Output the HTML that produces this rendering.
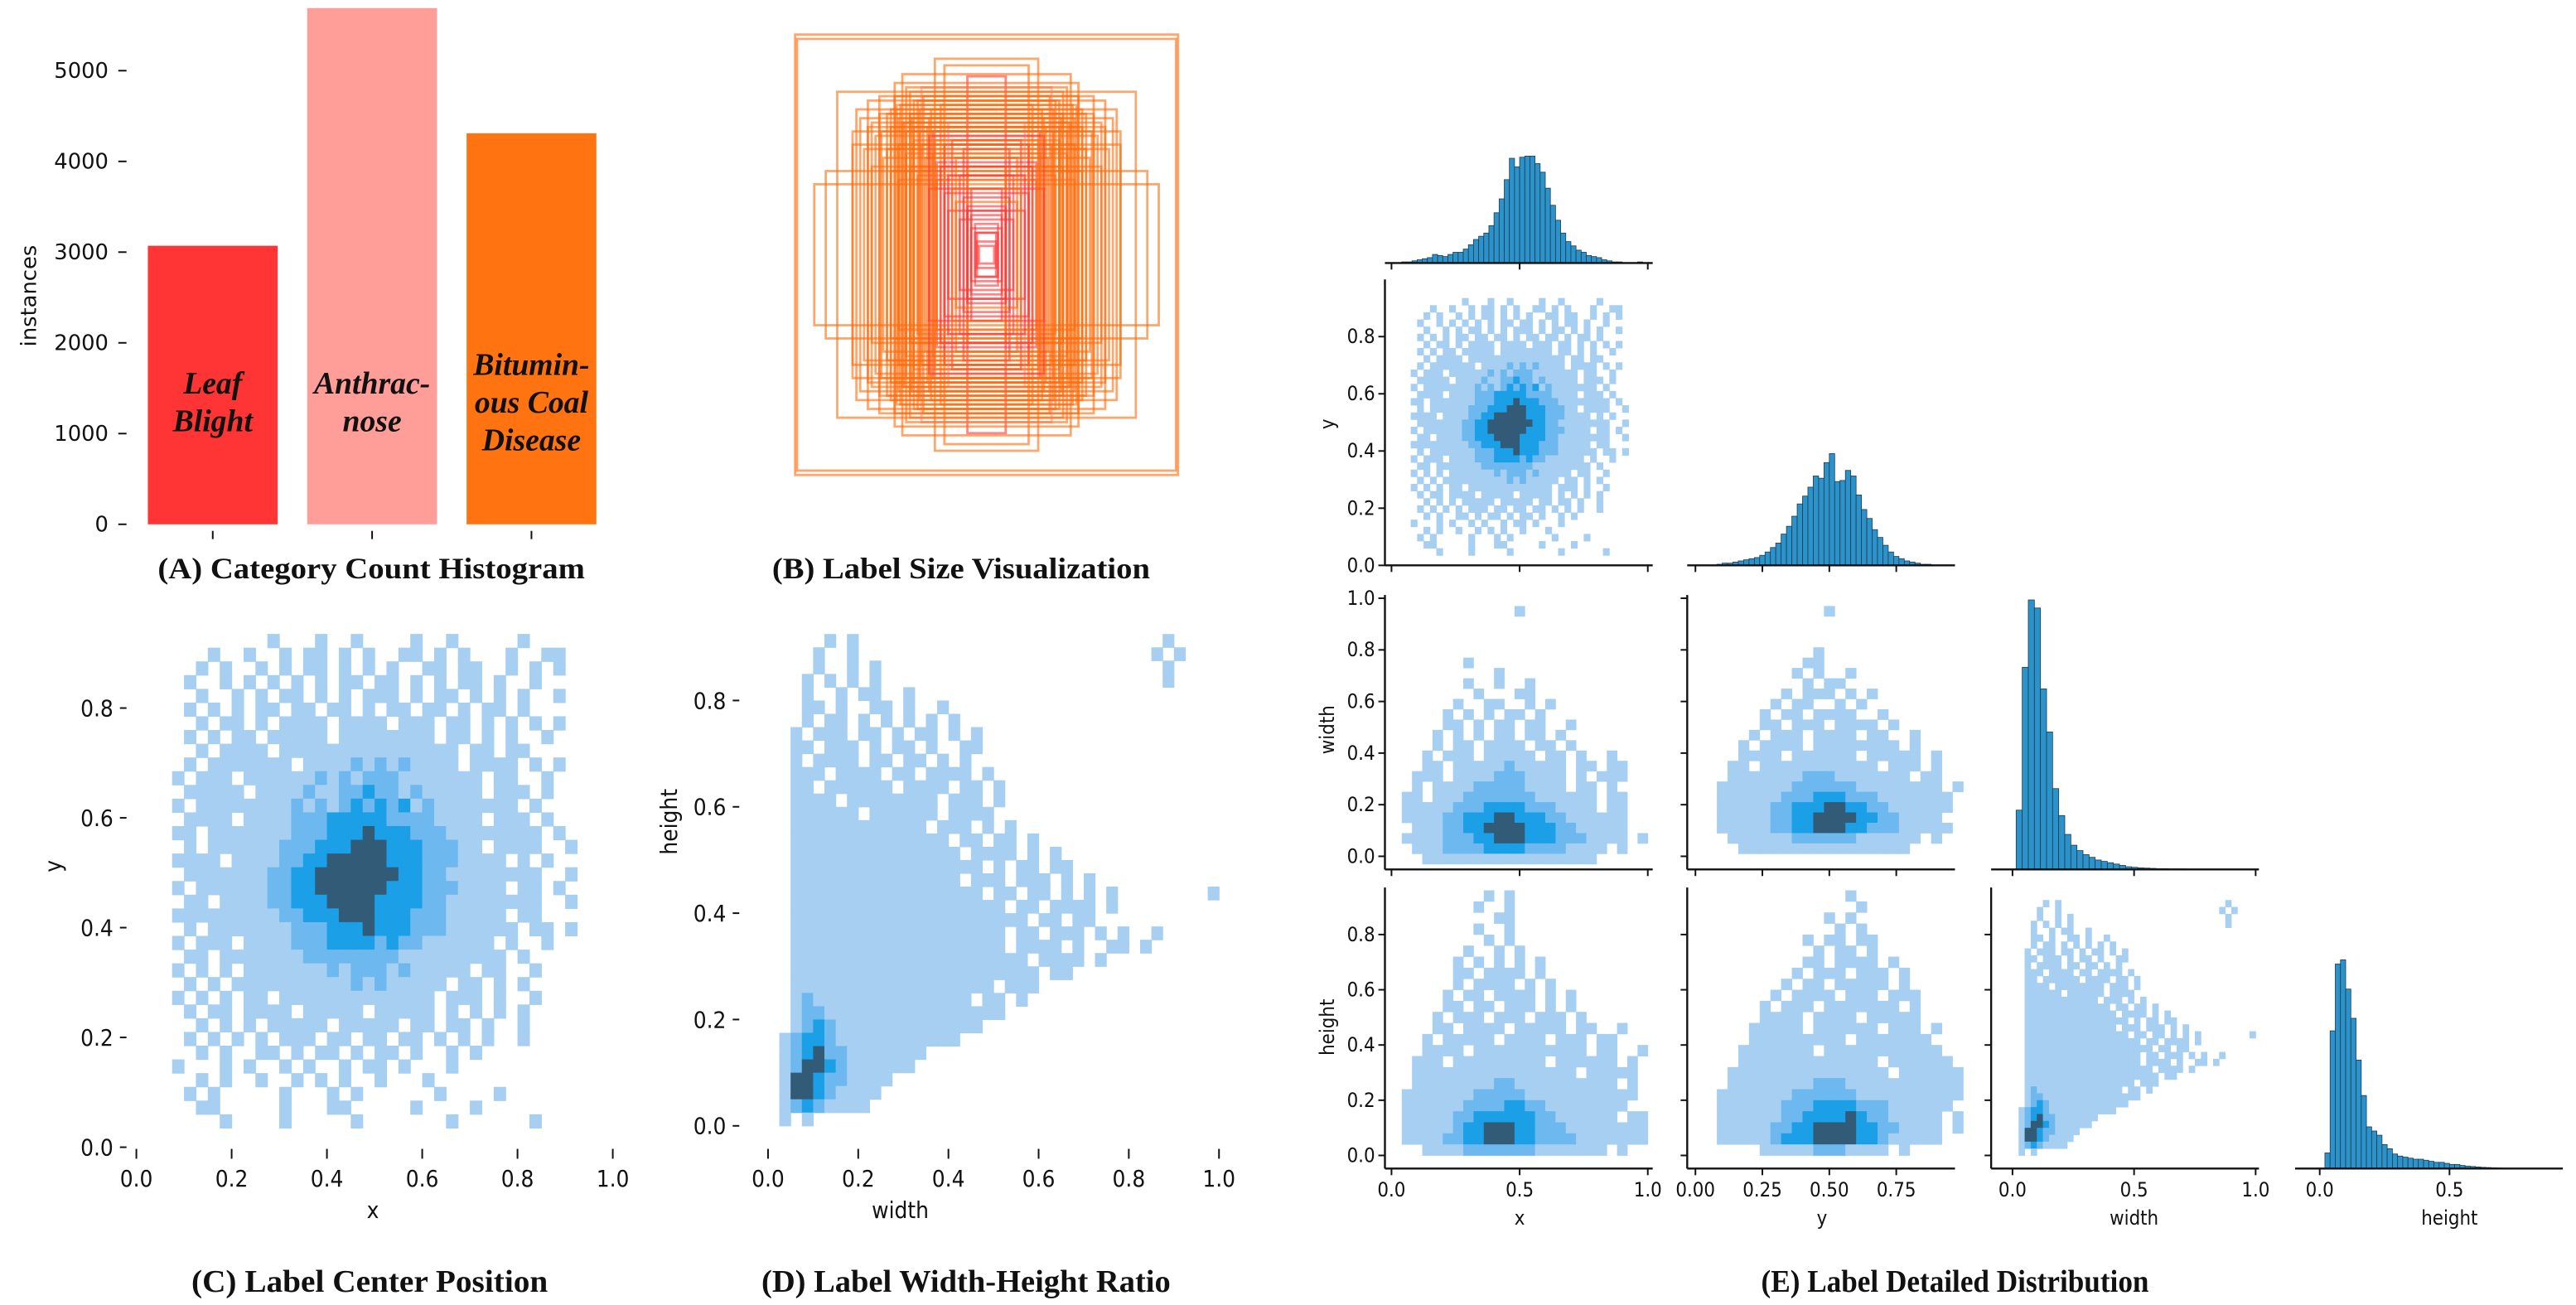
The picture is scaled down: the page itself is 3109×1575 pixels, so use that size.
<!DOCTYPE html>
<html><head><meta charset="utf-8"><title>Label statistics figure</title>
<style>
html,body{margin:0;padding:0;background:#fff;}
svg{display:block;}
.tk{font-family:"DejaVu Sans",sans-serif;fill:#111;}
.tc{font-family:"DejaVu Sans Condensed","DejaVu Sans",sans-serif;font-stretch:condensed;fill:#111;}
.ttl{font-family:"Liberation Serif",serif;font-weight:bold;fill:#111;}
</style></head>
<body>
<svg id="fig" xmlns="http://www.w3.org/2000/svg" width="3109" height="1575" viewBox="0 0 1568 794" preserveAspectRatio="none"></svg>
<script>
// ---------- Panel A data ----------
const catNames = ['Leaf Blight','Anthracnose','Bituminous Coal Disease'];
const catCounts = [3070, 5690, 4310];
const catColors = ['#ff3434','#ff9e98','#ff7411'];
const catLabelLines = [['Leaf','Blight'],['Anthrac-','nose'],['Bitumin-','ous Coal','Disease']];
const aTicks = [0,1000,2000,3000,4000,5000];

// ---------- Panel B data (normalized box width/height, class index) ----------
const boxW = [1,0.99,0.27,0.22,0.1,0.78,0.9,0.84,0.7,0.62,0.56,0.48,0.44,0.34,0.6,0.55,0.66,0.5,0.44,0.4,0.36,0.3,0.28,0.24,0.58,0.52,0.46,0.42,0.38,0.32,0.26,0.22,0.2,0.18,0.16,0.14,0.12,0.1,0.08,0.64,0.6,0.54,0.5,0.46,0.4,0.36,0.3,0.26,0.22,0.2,0.16,0.14,0.1,0.08,0.06,0.05,0.04,0.7,0.68,0.62,0.56,0.5,0.46,0.42,0.38,0.34,0.3,0.28,0.24,0.2,0.18,0.12,0.1,0.08,0.06,0.05,0.45,0.4,0.35,0.48,0.42,0.38,0.33,0.29,0.52,0.47,0.43,0.39,0.35,0.31,0.27];
const boxH = [1,0.98,0.89,0.86,0.81,0.74,0.32,0.38,0.5,0.7,0.72,0.78,0.82,0.76,0.6,0.56,0.62,0.66,0.6,0.64,0.7,0.62,0.56,0.68,0.54,0.48,0.5,0.46,0.52,0.44,0.42,0.5,0.6,0.52,0.44,0.36,0.48,0.4,0.3,0.48,0.4,0.44,0.38,0.34,0.4,0.36,0.3,0.34,0.28,0.2,0.24,0.16,0.2,0.12,0.1,0.06,0.04,0.56,0.66,0.58,0.64,0.58,0.62,0.56,0.58,0.5,0.54,0.46,0.4,0.36,0.3,0.26,0.22,0.18,0.14,0.1,0.68,0.74,0.66,0.72,0.76,0.7,0.72,0.66,0.64,0.68,0.6,0.62,0.56,0.58,0.52];
const boxCls = [2,2,2,2,0,2,2,2,2,2,2,2,2,1,2,2,2,2,2,2,2,2,0,2,2,2,2,2,2,2,0,0,1,0,2,0,0,2,0,2,2,2,2,2,2,2,0,2,0,0,2,0,0,0,0,0,0,2,2,2,2,2,2,2,2,2,0,2,0,0,2,0,0,0,0,0,2,2,2,2,2,2,2,2,2,2,2,2,2,2,2];

// ---------- Panel C data: x/y 2D histogram (rows top y=0.935 downward, step 0.025; cols from x=0.05) ----------
const xyGrid = [
".........1...1..1....1..1.....1.....",
"....1..1..1.11.1.1..11.1.1...1..11..",
"...1.1..1.1.11.1.1.1..11.11..1.1.1..",
"..1..1.1.1.1.1.11.11.1.1.11.1..1....",
"...1..1.1.11.1.1.111.1.11.1.1.1..1..",
"..1.1.1.11.11.11.1.11.11.1.11.1.....",
"...1.11.1.1111.1111.111.11.1.1.1.1..",
"..1.1.11.11111.11111111.11.1.1..1...",
"...1.1111.111111111111111.11.11.....",
"..1.1111111.1111212121111.1111.1.1..",
".1.111.11111121212221111111.11..1...",
"..11111.1111211223221211111.111.1...",
".1.111111112121232323121111111.1....",
"..1111.11112223333322221111.111.1...",
".11.1111111222333433322211111111.1..",
"..1.11111122233344433322211.1111..1.",
".1111.11112233444443332221111.1.1...",
"..111111122334444444332211111111..1.",
".1.11111122334444443332221111.11.1..",
"..11.111122333444433332211111111..1.",
".1111111112233344433322211111.11....",
"..1.11111112223334333222111111.11.1.",
".1.111.111122233332322111111.1..1...",
"..11.111111122222222111111111.1.....",
".1.1.1.1111111212221211111.11..1....",
"..1.1.111111111121211111.11.1.1.....",
".1.1.1.11.1111111111111.111.1..1....",
"..1.11.1111.11111.11111.1.1.1.1.....",
"...1.1.1.11111.11111.11.11.1..1.....",
"..1.1.1.1.111.11.11.11.1.1.1..1.....",
"...1.1..11.1.11.1.11.1..1.1.........",
".1...1.1..1.1..1.11.1...1...........",
"...1.1..1..1.1.1..1...1.............",
"..1.1.....1...1.1......1....1.......",
"...11.....1...11.....1....1.........",
".....1....1.....1.......1......1...."
];

// ---------- Panel D data: width/height 2D histogram (rows top h=0.925, step 0.025; cols from w=0) ----------
const whGrid = [
".....1.1...........................1....",
"....1..1..........................1.1...",
"....1..1.1.........................1....",
"...1.1.1.1.........................1....",
"...1..1.11..1...........................",
"...11.1..11.1..1........................",
"...1.11.1.1.1.1.1.......................",
"..1.111.11.1.11.1.1.....................",
"..11.111.1.11.1..11.....................",
"..1.1111.11.11.1.1......................",
"..111.1111.11.1111.1....................",
"..11.111111.1111.11.1...................",
"..1111.11111111.111.1...................",
"..111111.111111.1111....................",
"..111111111111.111.1.1..................",
"..11111111111111.11.11.1................",
"..111111111111111.1111.1.1..............",
"..11111111111111111.1.11.11.............",
"..111111111111111.111.111.1.1...........",
"..11111111111111111.11.11.1.1.1........1",
"..1111111111111111111.11.1111.1.........",
"..111111111111111111111.11.11...........",
"..1111111111111111111.11.111.1.1..1.....",
"..1111111111111111111.1111.1..11.1......",
"..111111111111111111111.1111.1..........",
"..1111111111111111111111.11.............",
"..111111111111111111.111................",
"..1211111111111111.11.1.................",
"..1221111111111111111...................",
"..12321111111111111.....................",
".1233211111111111.......................",
".1234221111111..........................",
".124432111111...........................",
".1443221111.............................",
".144321111..............................",
".12321111...............................",
".1.1...................................."
];

// ---------- Panel E data ----------
const xHist = [0,0,0.01,0.01,0.02,0.03,0.04,0.05,0.08,0.07,0.06,0.08,0.1,0.1,0.13,0.17,0.22,0.25,0.28,0.35,0.47,0.6,0.78,0.98,0.9,0.99,1.0,1.0,0.93,0.85,0.7,0.54,0.4,0.28,0.2,0.16,0.12,0.1,0.07,0.06,0.05,0.03,0.02,0.01,0.01,0,0,0,0.01,0];
const yHist = [0,0,0,0,0.01,0.02,0.02,0.03,0.04,0.05,0.06,0.07,0.09,0.12,0.16,0.2,0.28,0.35,0.44,0.55,0.62,0.7,0.8,0.78,0.92,1.0,0.75,0.76,0.85,0.8,0.63,0.5,0.42,0.32,0.25,0.18,0.12,0.08,0.06,0.04,0.03,0.02,0.01,0.01,0,0,0,0,0,0];
const wHist = [0.22,0.75,1.0,0.97,0.67,0.51,0.3,0.2,0.13,0.09,0.07,0.055,0.045,0.035,0.03,0.025,0.02,0.015,0.01,0.008,0.006,0.005,0.004,0.003,0.003,0.002,0.002,0.002];
const hHist = [0,0.075,0.66,0.98,1.0,0.86,0.72,0.52,0.35,0.2,0.18,0.16,0.115,0.095,0.07,0.06,0.055,0.05,0.045,0.045,0.04,0.035,0.03,0.03,0.025,0.02,0.02,0.015,0.012,0.01,0.008,0.006,0.005,0.004,0.003,0.002,0.002];
const xwGrid = [
"............1............",
".........................",
".........................",
".........................",
".........................",
".......1.................",
"..........1..............",
".......1..1..1...........",
"........1...11...........",
"......1..11..1.1.........",
".....1.1.1.11.1..........",
".....11.1.11.11..1.......",
"....1.1.1.11.11.1........",
"....1.11.1111.11.1.......",
"...1.111.11111.11.1..1...",
"...11.11111211111.11.11..",
"..111.11112221111.1.111..",
"..1.1111222221111.11.1...",
".11.1112222222111111.11..",
".1111122233332221111.11..",
".1111223334433322111111..",
"..111223344443332211111..",
".1111222334443332221111.1",
"..1112222333322221111.1..",
"...11111111111111111....."
];
const ywGrid = [
"............1............",
".........................",
".........................",
".........................",
"...........1.............",
"..........11.............",
".........1.1..1..........",
"..........1.11...........",
"........1.111.1.1........",
".......1.11..1.1.........",
"......1.11.1111..1.......",
"......11.111.1111.1......",
".....1.111.1111.11..1....",
"....1.1111.11111111.1....",
"....1111.111111.11111.1..",
"...11.11111111111.111.1..",
"...11111112221111111.11..",
"..111111122222211111111.1",
"..1111112223332221111111.",
"..1111122333443322111111.",
"..111112233444433221111..",
"..1111122334443322211111.",
"...111111222222111111.1..",
"....1111111111111111.....",
"........................."
];
const xhGrid = [
".........1.1.............",
"........1..1.............",
"..........11.............",
"........1..1.............",
".........1.1.............",
".......1..1.1............",
"......1.1.1.1.1..........",
"......11.1111.1..........",
"......1.1111.1.1.........",
".....1.11.1111.1.1.......",
".....11.11.111.1.1.......",
"....1.111.111.111.1......",
"....11.1111.11111.11..1..",
"...1.11111.1111.111.11...",
"...1111.11111111111.11..1",
"..111.111111111.111111.1.",
"..1111111111111111.11111.",
"..11111111221111111111.1.",
".11111112222211111111111.",
".1111112222332211111111..",
".111112233333322111111.11",
".111112334443322211111111",
".111122334443322221111111",
"...111122222221111111.1.."
];
const yhGrid = [
"..............1..........",
"...............1.........",
"............1.1..........",
".............1.1.........",
"..........1.11.11........",
"...........1.11.1........",
"..........11.1111.1......",
".........1.111.111.1.....",
"........1.11.11111.1.....",
".......1.1111.111.111....",
"......1.111.1111111.1....",
"......1111.1111.11111....",
".....11111.111111.111.1..",
".....111111111.1111111...",
"....1111111.11111111111..",
"....1111111111111.111111.",
"...111111111111111.111111",
"...1111111122211111111111",
"..11111112222221111111111",
"..1111112223333222111111.",
"..111111223333432211111.1",
"..111112233444433221111.1",
"..111112333444433211111..",
"......111112221111.1....."
];
const ticksE_x = [0,0.5,1.0];
const ticksE_y = [0,0.25,0.5,0.75];
const ticksE_w = [0,0.5,1.0];
const ticksE_h = [0,0.5];
const ticksE_rowY = [0,0.2,0.4,0.6,0.8];
const ticksE_rowW = [0,0.2,0.4,0.6,0.8,1.0];
const ticksE_rowH = [0,0.2,0.4,0.6,0.8];
const ticksCD = [0,0.2,0.4,0.6,0.8,1.0];
const ticksCy = [0,0.2,0.4,0.6,0.8];
const ticksDy = [0,0.2,0.4,0.6,0.8];

// ---------- helpers ----------
const NS = 'http://www.w3.org/2000/svg';
const svg = document.getElementById('fig');
const LV = {'1':'#a6cff1','2':'#6cb8ef','3':'#1b9fe6','4':'#325b78'};
function mk(tag, attrs, parent){
  const e = document.createElementNS(NS, tag);
  for (const k in attrs) e.setAttribute(k, attrs[k]);
  (parent || svg).appendChild(e);
  return e;
}
function group(name){
  const g = mk('g', {});
  
  
  return g;
}
function text(parent, x, y, s, size, cls, anchor, extra){
  const a = {x:x, y:y, 'font-size':size, 'class':cls, 'text-anchor':anchor||'middle'};
  if (extra) for (const k in extra) a[k] = extra[k];
  const t = mk('text', a, parent);
  t.textContent = s;
  return t;
}
function line(parent, x1, y1, x2, y2, w, c){
  return mk('line', {x1:x1, y1:y1, x2:x2, y2:y2, stroke:c||'#111', 'stroke-width':w||1}, parent);
}
function drawGrid(parent, grid, xs, ys, x0, colStep, yTop, rowStep, name, pad){
  const p = pad === undefined ? 0.3 : pad;
  for (let r = 0; r < grid.length; r++){
    const row = grid[r];
    for (let c = 0; c < row.length; c++){
      const ch = row[c];
      if (!LV[ch]) continue;
      const xa = xs(x0 + c*colStep), xb = xs(x0 + (c+1)*colStep);
      const ya = ys(yTop - r*rowStep), yb = ys(yTop - (r+1)*rowStep);
      const cell = mk('rect', {x:Math.min(xa,xb), y:Math.min(ya,yb), width:Math.max(0.5,Math.abs(xb-xa)+p), height:Math.max(0.5,Math.abs(yb-ya)+p), fill:LV[ch]}, parent);
      
      
    }
  }
}
function drawHist(parent, vals, x0, step, xs, base, peak, name){
  for (let i = 0; i < vals.length; i++){
    if (vals[i] <= 0) continue;
    const xa = xs(x0 + i*step), xb = xs(x0 + (i+1)*step);
    const h = vals[i]*peak;
    const b = mk('rect', {x:xa, y:base-h, width:xb-xa, height:h, fill:'#2b93c9', stroke:'#1c3a52', 'stroke-width':0.4}, parent);
    
    
  }
}

// ================= Panel A =================
(function(){
  const g = group('panel-a-category-histogram');
  const yA = v => 319 - v*0.0552;
  const xA = i => 90 + i*97;
  for (let i = 0; i < catCounts.length; i++){
    const b = mk('rect', {x:xA(i), y:yA(catCounts[i]), width:79, height:yA(0)-yA(catCounts[i]), fill:catColors[i]}, g);
    
    
    const lines = catLabelLines[i];
    const cy = 245 - (lines.length-1)*11.5;
    for (let j = 0; j < lines.length; j++){
      const t = text(g, xA(i)+39.5, cy + j*23 + 6, lines[j], 19, 'ttl', 'middle', {'font-style':'italic'});
      
      
    }
    const tm = line(g, xA(i)+39.5, 323, xA(i)+39.5, 328, 1);
    
    
  }
  for (const v of aTicks){
    const t = text(g, 66, yA(v)+4.5, String(v), 13, 'tk', 'end');
    
    
    const tm = line(g, 72, yA(v), 77, yA(v), 1);
    
    
  }
  const yl = text(g, 0, 0, 'instances', 13, 'tk', 'middle', {transform:'translate(22,180) rotate(-90)'});
  
  
  const tt = text(g, 226, 352, '(A) Category Count Histogram', 18, 'ttl', 'middle', {textLength:260, lengthAdjust:'spacingAndGlyphs'});
  
  
})();

// ================= Panel B =================
(function(){
  const g = group('panel-b-label-size');
  const cx = 600.5, cy = 155, W = 233, H = 268;
  const cols = ['#ff3535','#ff8f8a','#ff6a0a'];
  for (let i = 0; i < boxW.length; i++){
    const w = boxW[i]*W, h = boxH[i]*H;
    const r = mk('rect', {x:cx-w/2, y:cy-h/2, width:w, height:h, fill:'none', stroke:cols[boxCls[i]], 'stroke-opacity':0.6, 'stroke-width':1.4}, g);
    
    
  }
  const tt = text(g, 585, 352, '(B) Label Size Visualization', 18, 'ttl', 'middle', {textLength:230, lengthAdjust:'spacingAndGlyphs'});
  
  
})();

// ================= Panel C =================
(function(){
  const g = group('panel-c-center-position');
  const xs = v => 83 + 290*v, ys = v => 698 - 334*v;
  drawGrid(g, xyGrid, xs, ys, 0.05, 0.025, 0.935, 0.025, 'heatmap-cell');
  for (const v of ticksCD){
    const tm = line(g, xs(v), 699, xs(v), 705, 1);
    
    
    const t = text(g, xs(v), 722, v.toFixed(1), 14, 'tc');
    
    
  }
  for (const v of ticksCy){
    const tm = line(g, 73, ys(v), 77, ys(v), 1);
    
    
    const t = text(g, 69, ys(v)+5, v.toFixed(1), 14, 'tc', 'end');
    
    
  }
  const xl = text(g, 227, 741, 'x', 14, 'tc');
  
  
  const yl = text(g, 0, 0, 'y', 14, 'tc', 'middle', {transform:'translate(37,527) rotate(-90)'});
  
  
  const tt = text(g, 225, 786, '(C) Label Center Position', 19, 'ttl', 'middle', {textLength:217, lengthAdjust:'spacingAndGlyphs'});
  
  
})();

// ================= Panel D =================
(function(){
  const g = group('panel-d-width-height');
  const xs = v => 467.5 + 274.5*v, ys = v => 685 - 323.5*v;
  drawGrid(g, whGrid, xs, ys, 0, 0.025, 0.925, 0.025, 'heatmap-cell');
  for (const v of ticksCD){
    const tm = line(g, xs(v), 699, xs(v), 705, 1);
    
    
    const t = text(g, xs(v), 722, v.toFixed(1), 14, 'tc');
    
    
  }
  for (const v of ticksDy){
    const tm = line(g, 446, ys(v), 450, ys(v), 1);
    
    
    const t = text(g, 442, ys(v)+5, v.toFixed(1), 14, 'tc', 'end');
    
    
  }
  const xl = text(g, 548, 741, 'width', 14, 'tc');
  
  
  const yl = text(g, 0, 0, 'height', 14, 'tc', 'middle', {transform:'translate(412,500) rotate(-90)'});
  
  
  const tt = text(g, 588, 786, '(D) Label Width-Height Ratio', 19, 'ttl', 'middle', {textLength:249, lengthAdjust:'spacingAndGlyphs'});
  
  
})();

// ================= Panel E =================
(function(){
  const g = group('panel-e-pairplot');
  const cX = v => 847 + 156*v;
  const cY = v => 1032 + 163*v;
  const cW = v => 1225 + 148*v;
  const cH = v => 1412 + 158*v;
  const rY = v => 344 - 174*v;
  const rW = v => 521 - 157*v;
  const rH = v => 703 - 168*v;
  const colL = [843,1027,1212,1397], colR = [1006,1190,1375,1560];
  const base = [160,344,529,711];
  const rowTop = [90,170,362,540];

  drawHist(g, xHist, 0, 0.02, cX, 160, 65, 'x-hist-bar');
  drawHist(g, yHist, 0, 0.02, cY, 344, 68, 'y-hist-bar');
  drawHist(g, wHist, 0.015, 0.025, cW, 529, 164, 'width-hist-bar');
  drawHist(g, hHist, 0, 0.02, cH, 711, 127, 'height-hist-bar');

  drawGrid(g, xyGrid, cX, rY, 0.05, 0.025, 0.935, 0.025, 'x-y-cell', 0.2);
  drawGrid(g, xwGrid, cX, rW, 0, 0.04, 0.97, 0.04, 'x-width-cell', 0.2);
  drawGrid(g, ywGrid, cY, rW, 0, 0.04, 0.97, 0.04, 'y-width-cell', 0.2);
  drawGrid(g, xhGrid, cX, rH, 0, 0.04, 0.96, 0.04, 'x-height-cell', 0.2);
  drawGrid(g, yhGrid, cY, rH, 0, 0.04, 0.96, 0.04, 'y-height-cell', 0.2);
  drawGrid(g, whGrid, cW, rH, 0, 0.025, 0.925, 0.025, 'width-height-cell', 0.2);

  const colScales = [cX, cY, cW, cH];
  const colTicks = [ticksE_x, ticksE_y, ticksE_w, ticksE_h];
  const colFmt = [1,2,1,1];
  for (let r = 0; r < 4; r++){
    for (let c = 0; c <= r; c++){
      const sp = line(g, colL[c], base[r], colR[c], base[r], 1.2);
      
      
      for (const v of colTicks[c]){
        const x = colScales[c](v);
        const tm = line(g, x, base[r], x, base[r]+4, 1);
        
        
        if (r === 3){
          const t = text(g, x, 728, v.toFixed(colFmt[c]), 12, 'tc');
          
          
        }
      }
    }
  }
  const rowScales = [null, rY, rW, rH];
  const rowTicks = [null, ticksE_rowY, ticksE_rowW, ticksE_rowH];
  for (let r = 1; r < 4; r++){
    for (let c = 0; c < r; c++){
      const sp = line(g, colL[c], rowTop[r], colL[c], base[r], 1.2);
      
      
      for (const v of rowTicks[r]){
        const y = rowScales[r](v);
        const tm = line(g, colL[c]-4, y, colL[c], y, 1);
        
        
        if (c === 0){
          const t = text(g, colL[c]-6, y+4, v.toFixed(1), 12, 'tc', 'end');
          
          
        }
      }
    }
  }
  const xn = ['x','y','width','height'];
  const xc = [925, 1109, 1299, 1491];
  for (let i = 0; i < 4; i++){
    const t = text(g, xc[i], 745, xn[i], 12, 'tc');
    
    
  }
  const yn = ['y','width','height'];
  const yc = [258, 444, 625];
  for (let i = 0; i < 3; i++){
    const t = text(g, 0, 0, yn[i], 12, 'tc', 'middle', {transform:'translate(812,' + yc[i] + ') rotate(-90)'});
    
    
  }
  const tt = text(g, 1190, 786, '(E) Label Detailed Distribution', 19, 'ttl', 'middle', {textLength:236, lengthAdjust:'spacingAndGlyphs'});
  
  
})();
</script>
</body></html>
